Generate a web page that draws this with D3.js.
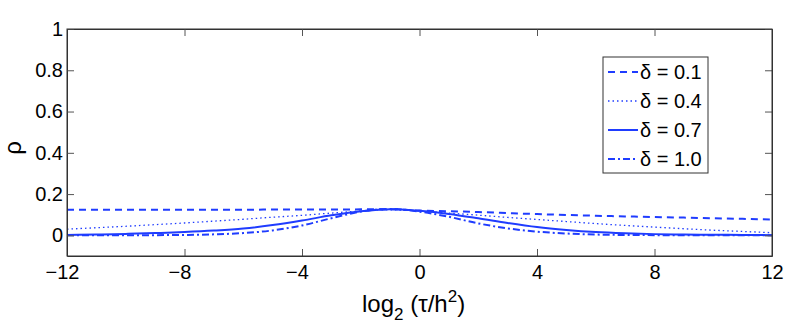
<!doctype html>
<html lang="en">
<head>
<meta charset="utf-8">
<script src="https://cdnjs.cloudflare.com/ajax/libs/d3/7.8.5/d3.min.js"></script>
<style>
  body { margin: 0; background: #fff; }
  svg { font-family: 'Liberation Sans', Arial, sans-serif; }
  .tick text { font-size: 20px; fill: #000; }
</style>
</head>
<body>
<script>
// x values: log2(tau/h^2)
const xs = [-12,-11,-10,-9,-8,-7,-6,-5,-4,-3,-2,-1,0,1,2,3,4,5,6,7,8,9,10,11,12];

// rho for each delta
const d01 = [0.124,0.124,0.124,0.124,0.124,0.124,0.124,0.125,0.125,0.125,0.126,0.127,0.120,0.117,0.113,0.108,0.103,0.099,0.095,0.092,0.089,0.086,0.083,0.080,0.077];
const d04 = [0.030,0.037,0.044,0.052,0.060,0.069,0.078,0.088,0.097,0.108,0.118,0.124,0.118,0.108,0.098,0.087,0.077,0.067,0.057,0.048,0.040,0.032,0.025,0.019,0.013];
const d07 = [0.002,0.004,0.007,0.011,0.016,0.023,0.033,0.050,0.072,0.097,0.117,0.127,0.119,0.104,0.083,0.060,0.040,0.026,0.016,0.010,0.006,0.004,0.003,0.002,0.001];
const d10 = [0.000,0.000,0.000,0.001,0.002,0.005,0.011,0.024,0.048,0.083,0.115,0.128,0.115,0.090,0.058,0.034,0.018,0.009,0.004,0.002,0.001,0.000,0.000,0.000,0.000];

const labels = ["δ = 0.1", "δ = 0.4", "δ = 0.7", "δ = 1.0"];
const dashes = ["7,5", "1.5,3", null, "7,3,2,3"];
const widths = [2, 1.3, 2, 2];
const seriesList = [d01, d04, d07, d10];

const xTicks = [-12,-8,-4,0,4,8,12];
const yTicks = [0,0.2,0.4,0.6,0.8,1];

const w = 795, h = 332;
const padL = 67, padR = 772, padT = 29, padB = 256;
const blue = "#1f3cff";
const fmt = d => (d < 0 ? "\u2212" + Math.abs(d) : "" + d);

const x = d3.scaleLinear().domain([-12, 12]).range([padL, padR]);
const y = d3.scaleLinear().domain([-0.1, 1]).range([padB, padT]);

const svg = d3.select("body").append("svg")
  .attr("width", w)
  .attr("height", h);

// lines
const line = d3.line()
  .x((d, i) => x(xs[i]))
  .y(d => y(d))
  .curve(d3.curveMonotoneX);

svg.append("g").selectAll("path")
  .data(seriesList)
  .enter()
  .append("path")
  .attr("d", line)
  .attr("fill", "none")
  .attr("stroke", blue)
  .attr("stroke-width", (d, i) => widths[i])
  .attr("stroke-dasharray", (d, i) => dashes[i]);

// axes (ticks pointing inward, box style)
const tl = 7;
svg.append("g")
  .attr("transform", "translate(0," + padB + ")")
  .call(d3.axisBottom(x).tickValues(xTicks).tickFormat(fmt).tickSizeInner(-tl).tickSizeOuter(0).tickPadding(9))
  .selectAll(".tick text")
  .attr("dx", d => (d < 0 ? -5 : 0));
svg.append("g")
  .attr("transform", "translate(0," + padT + ")")
  .call(d3.axisTop(x).tickValues(xTicks).tickFormat("").tickSizeInner(-tl).tickSizeOuter(0));
svg.append("g")
  .attr("transform", "translate(" + padL + ",0)")
  .call(d3.axisLeft(y).tickValues(yTicks).tickFormat(d => d).tickSizeInner(-tl).tickSizeOuter(0).tickPadding(4));
svg.append("g")
  .attr("transform", "translate(" + padR + ",0)")
  .call(d3.axisRight(y).tickValues(yTicks).tickFormat("").tickSizeInner(-tl).tickSizeOuter(0));

svg.selectAll(".domain").attr("stroke", "#333");
svg.selectAll(".tick line").attr("stroke", "#555");

// box outline
svg.append("rect")
  .attr("x", padL).attr("y", padT)
  .attr("width", padR - padL).attr("height", padB - padT)
  .attr("fill", "none").attr("stroke", "#333");

// axis labels
svg.append("text")
  .attr("transform", "translate(13,148) rotate(-90)")
  .attr("text-anchor", "middle")
  .attr("dy", "0.35em")
  .attr("font-size", 24)
  .text("ρ");

const xl = svg.append("text")
  .attr("x", 362)
  .attr("y", 312)
  .attr("font-size", 24);
xl.append("tspan").text("log");
xl.append("tspan").attr("font-size", 17).attr("dy", 8).text("2");
xl.append("tspan").attr("dy", -8).text(" (τ/h");
xl.append("tspan").attr("font-size", 17).attr("dy", -10).text("2");
xl.append("tspan").attr("dy", 10).text(")");

// legend
const legend = svg.append("g").attr("id", "legend");
legend.append("rect")
  .attr("x", 603).attr("y", 57)
  .attr("width", 105).attr("height", 116)
  .attr("fill", "#fff").attr("stroke", "#333");

const rows = legend.selectAll("g.row")
  .data(labels)
  .enter()
  .append("g")
  .attr("class", "row")
  .attr("transform", (d, i) => "translate(0," + (72 + i * 29) + ")");
rows.append("line")
  .attr("x1", 608).attr("x2", 638)
  .attr("y1", 0).attr("y2", 0)
  .attr("stroke", blue)
  .attr("stroke-width", (d, i) => widths[i])
  .attr("stroke-dasharray", (d, i) => dashes[i]);
rows.append("text")
  .attr("x", 640)
  .attr("y", 7)
  .attr("font-size", 20)
  .text(d => d);
</script>
</body>
</html>
